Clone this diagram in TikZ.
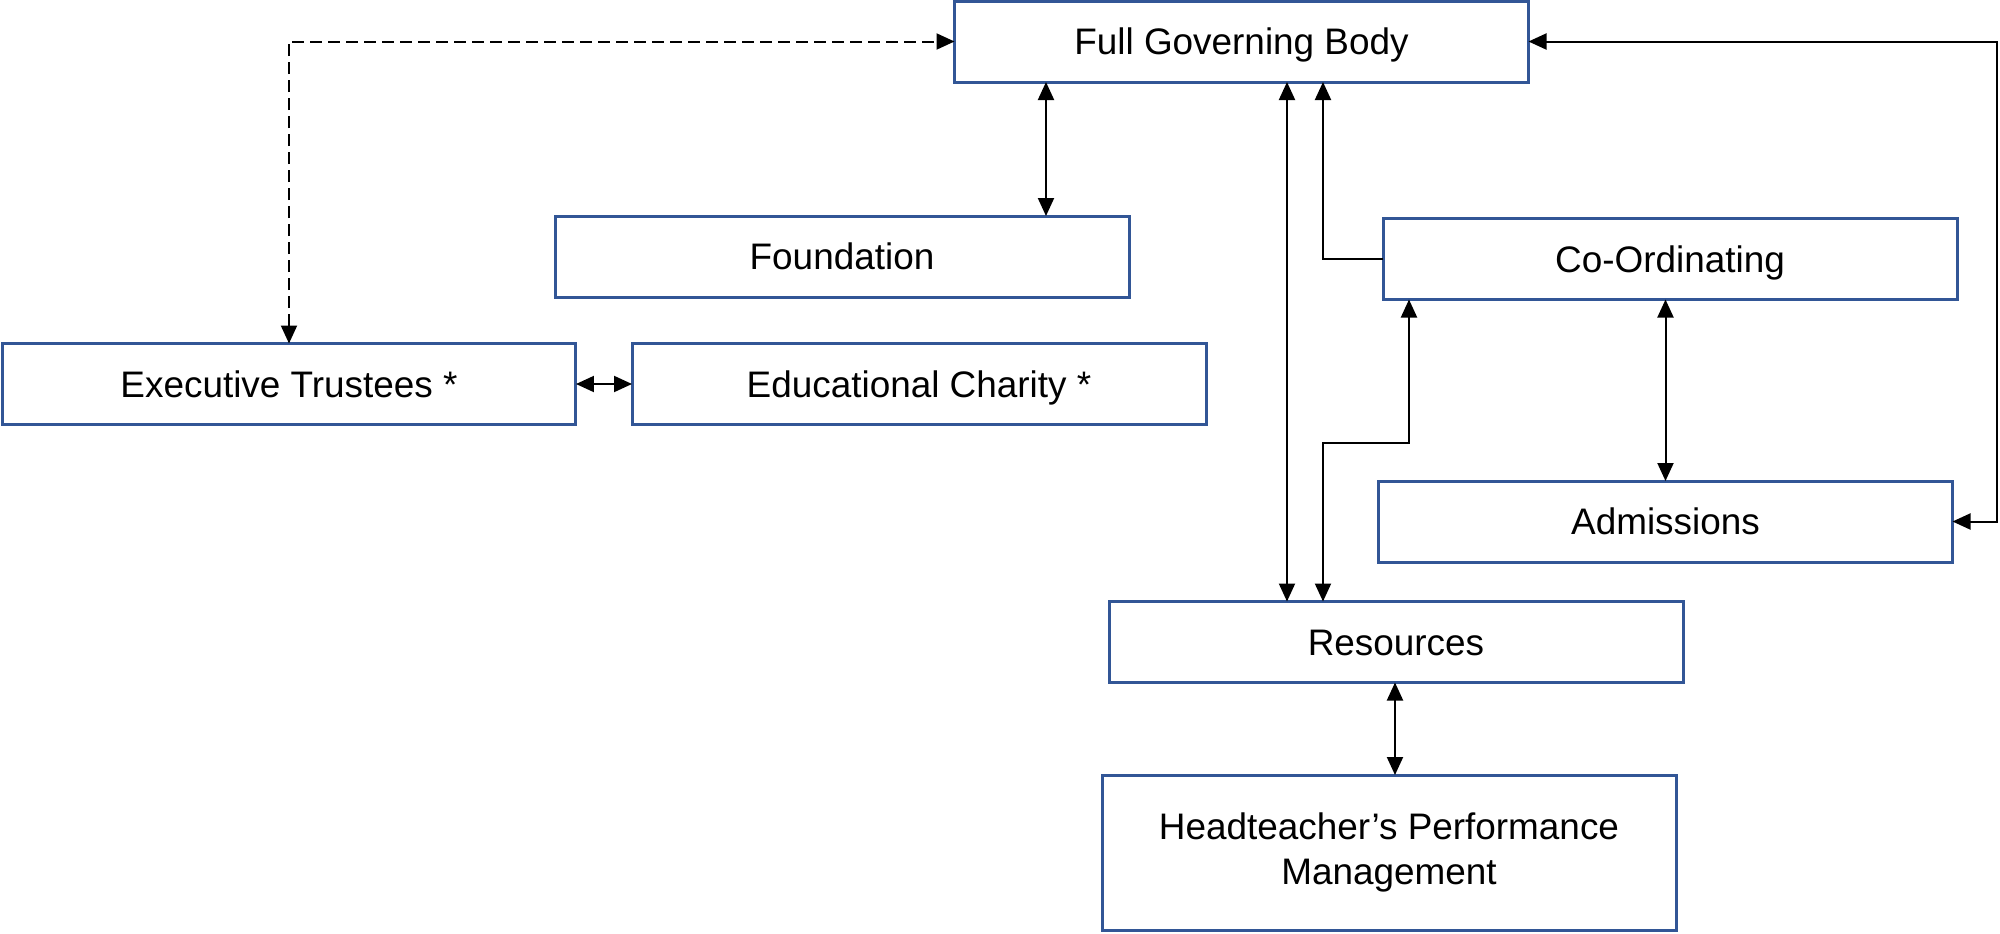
\documentclass[tikz,border=0pt]{standalone}
\usepackage{fontspec}
\setmainfont{Liberation Sans}
\usetikzlibrary{arrows.meta}
\definecolor{boxblue}{RGB}{50,86,150}

\begin{document}
\begin{tikzpicture}[x=0.1mm,y=-0.1mm,line join=miter,
  every node/.style={inner sep=0pt,outer sep=0pt},
  box/.style={draw=boxblue,line width=0.3mm,fill=white,minimum width=57.4mm,
    minimum height=8.1mm,align=center,font=\fontsize{10.5pt}{12.8pt}\selectfont},
  onerow/.style={text height=7.6pt,text depth=0pt},
  link/.style={line width=0.2mm,>={Triangle[length=1.8mm,width=1.6mm]}}]
  \path[use as bounding box] (0,0) rectangle (2000,934);  % source canvas 2000x934px
  % ---- boxes: centres in source px (1 unit = 1px)
  \node[box,onerow] (fgb)   at (1241.5, 41.5) {Full Governing Body};
  \node[box,onerow] (found) at ( 842.0,256.5) {Foundation};
  \node[box,onerow] (coord) at (1670.0,259.0) {Co-Ordinating};
  \node[box,onerow] (exec)  at ( 289.0,384.0) {Executive Trustees *};
  \node[box,onerow] (edu)   at ( 919.0,384.0) {Educational Charity *};
  \node[box,onerow] (adm)   at (1665.5,521.5) {Admissions};
  \node[box,onerow] (res)   at (1396.0,642.0) {Resources};
  \node[box,minimum height=15.5mm] (head) at (1389.0,852.5) {Headteacher’s Performance\\Management};
  % ---- guide positions for the off-centre links
  \coordinate (xf) at (1046,0);
  \coordinate (xa) at (1287,0);
  \coordinate (xb) at (1323,0);
  \coordinate (xc) at (1409,0);
  \coordinate (xh) at (1395,0);
  \coordinate (yk) at (0,443);
  \coordinate (xr) at (1997,0);
  % ---- links
  \draw[link,<->,dash pattern=on 1.2mm off 0.6mm] (exec.north) |- (fgb.west);
  \draw[link,<->] (fgb.south -| xf) -- (found.north -| xf);
  \draw[link,<->] (exec.east) -- (edu.west);
  \draw[link,<->] (fgb.south -| xa) -- (res.north -| xa);
  \draw[link,->] (coord.west) -| (fgb.south -| xb);
  \draw[link,<->] (res.north -| xb) -- (yk -| xb) -| (coord.south -| xc);
  \draw[link,<->] (coord.south -| adm.north) -- (adm.north);
  \draw[link,<->] (fgb.east) -| (xr |- adm.east) -- (adm.east);
  \draw[link,<->] (res.south -| xh) -- (head.north -| xh);
\end{tikzpicture}
\end{document}
